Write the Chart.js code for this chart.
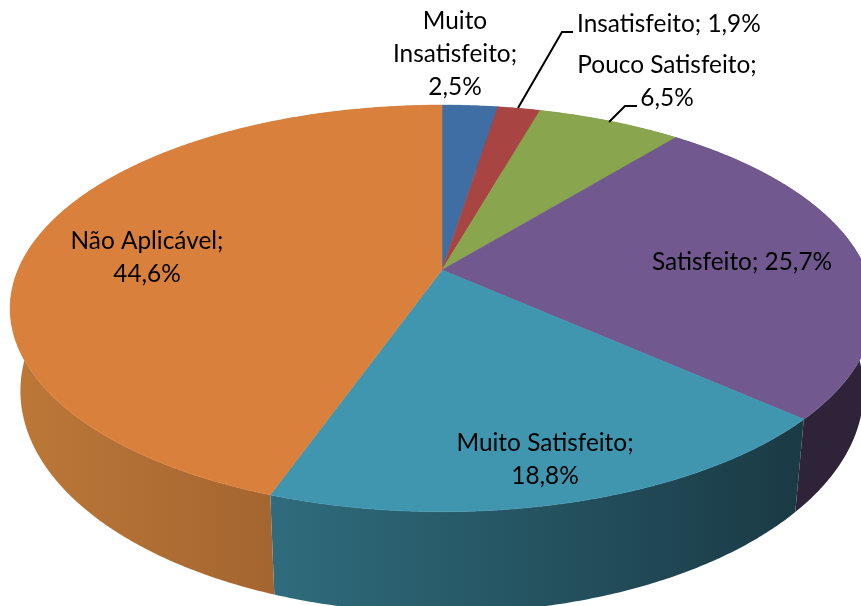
<!DOCTYPE html>
<html>
<head>
<meta charset="utf-8">
<style>
  html, body { margin: 0; padding: 0; background: #fff; }
  #chart { display: block; }
</style>
<script src="https://cdn.jsdelivr.net/npm/chart.js@4"></script>
</head>
<body>
<canvas id="chart" width="861" height="606"></canvas>
<script>
const categories = ["Muito Insatisfeito", "Insatisfeito", "Pouco Satisfeito", "Satisfeito", "Muito Satisfeito", "Não Aplicável"];
const shares = [2.5, 1.9, 6.5, 25.7, 18.8, 44.6];

const topColors = ["#3f6ea4", "#a84543", "#89a54e", "#71588f", "#4096af", "#d9803c"];
// side of each slice, left and right end of the gradient
const sideColors = [
    ["#2c4d73", "#2c4d73"],
    ["#763030", "#763030"],
    ["#607337", "#607337"],
    ["#2f2339", "#2f2339"],
    ["#2f6c7d", "#1a3a44"],
    ["#bd7838", "#93592a"]
];

// line breaks, text position and leader line of each label
const labelLayout = [
    { lines: ["Muito", "Insatisfeito;", "{v}"], x: 455, y: 29, align: "center" },
    { lines: ["Insatisfeito; {v}"], x: 577, y: 32, align: "left", leader: [[518, 108], [562, 32], [573, 32]] },
    { lines: ["Pouco Satisfeito;", "{v}"], x: 667, y: 73, align: "center", leader: [[609, 122], [625, 106], [637, 106]] },
    { lines: ["Satisfeito; {v}"], x: 742, y: 270, align: "center" },
    { lines: ["Muito Satisfeito;", "{v}"], x: 545, y: 451, align: "center" },
    { lines: ["Não Aplicável;", "{v}"], x: 147, y: 249, align: "center" }
];

// perspective of the pie: top face and bottom rim
const topFace = { x: 442, y: 270, a: 424, b: 196, k: -0.189 };
const bottomRim = { x: 442, y: 349, a: 414, b: 214, k: -0.189 };

function project(face, angle) {
    const u = Math.cos(angle);
    const v = Math.sin(angle);
    const w = 1 + face.k * v;
    return [face.x + face.a * u / w, face.y + face.b * v / w];
}

function rimPoints(face, start, end) {
    const steps = Math.max(2, Math.ceil((end - start) * 120));
    const points = [];
    for (let i = 0; i <= steps; i++) {
        points.push(project(face, start + (end - start) * i / steps));
    }
    return points;
}

function tracePoints(ctx, points, first) {
    points.forEach((p, i) => {
        if (i === 0 && first) ctx.moveTo(p[0], p[1]);
        else ctx.lineTo(p[0], p[1]);
    });
}

const perspectivePie = {
    id: "perspectivePie",
    // the pie is painted here from the angles of the library's arcs
    beforeDatasetsDraw(chart) {
        const ctx = chart.ctx;
        const arcs = chart.getDatasetMeta(0).data;
        ctx.save();
        ctx.lineJoin = "round";

        arcs.forEach((arc, i) => {
            const upper = rimPoints(topFace, arc.startAngle, arc.endAngle);
            const lower = rimPoints(bottomRim, arc.startAngle, arc.endAngle);
            const xs = upper.concat(lower).map(p => p[0]);
            const fill = ctx.createLinearGradient(Math.min(...xs), 0, Math.max(...xs), 0);
            fill.addColorStop(0, sideColors[i][0]);
            fill.addColorStop(1, sideColors[i][1]);
            // small quads in one path, so the outline follows the tangent at the far left and right
            ctx.beginPath();
            for (let n = 0; n < upper.length - 1; n++) {
                const quad = [upper[n], upper[n + 1], lower[n + 1], lower[n]];
                tracePoints(ctx, quad, true);
                ctx.closePath();
            }
            ctx.fillStyle = fill;
            ctx.fill("nonzero");
        });

        arcs.forEach((arc, i) => {
            ctx.beginPath();
            ctx.moveTo(topFace.x, topFace.y);
            tracePoints(ctx, rimPoints(topFace, arc.startAngle, arc.endAngle), false);
            ctx.closePath();
            ctx.fillStyle = arc.options.backgroundColor;
            ctx.strokeStyle = arc.options.backgroundColor;
            ctx.lineWidth = 0.6;
            ctx.fill();
            ctx.stroke();
        });

        ctx.restore();
        return false;
    },
    afterDraw(chart) {
        const ctx = chart.ctx;
        ctx.save();
        ctx.font = "24.4px Lato";
        ctx.fillStyle = "#000";
        ctx.strokeStyle = "#000";
        ctx.lineWidth = 2;
        ctx.textBaseline = "alphabetic";

        labelLayout.forEach((label, i) => {
            const value = shares[i].toFixed(1).replace(".", ",") + "%";
            ctx.textAlign = label.align;
            label.lines.forEach((line, n) => {
                ctx.fillText(line.replace("{v}", value), label.x, label.y + n * 33);
            });
            if (label.leader) {
                ctx.beginPath();
                tracePoints(ctx, label.leader, true);
                ctx.stroke();
            }
        });
        ctx.restore();
    }
};

new Chart(document.getElementById("chart"), {
    type: "pie",
    data: {
        labels: categories,
        datasets: [{
            data: shares,
            backgroundColor: topColors,
            borderWidth: 0
        }]
    },
    options: {
        responsive: false,
        animation: false,
        plugins: {
            legend: { display: false },
            tooltip: { enabled: false }
        }
    },
    plugins: [perspectivePie]
});
</script>
</body>
</html>
